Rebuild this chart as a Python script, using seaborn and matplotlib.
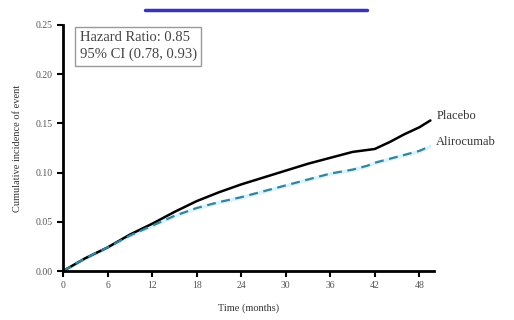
import matplotlib
matplotlib.use('Agg')
import matplotlib.pyplot as plt
from matplotlib.lines import Line2D
import seaborn as sns
import pandas as pd

# values
months = [0, 3, 6, 9, 12, 15, 18, 21, 24, 27, 30, 33, 36, 39, 41, 42, 44, 46, 48, 49.5]
placebo = [0.0, 0.013, 0.024, 0.037, 0.048, 0.060, 0.071, 0.080, 0.088, 0.095, 0.102, 0.109, 0.115, 0.121, 0.123, 0.124, 0.131, 0.139, 0.146, 0.153]
alirocumab = [0.0, 0.013, 0.024, 0.036, 0.046, 0.056, 0.064, 0.070, 0.075, 0.081, 0.087, 0.093, 0.099, 0.103, 0.107, 0.110, 0.114, 0.118, 0.122, 0.127]
xticks = [0, 6, 12, 18, 24, 30, 36, 42, 48]
yticks = [0.00, 0.05, 0.10, 0.15, 0.20, 0.25]

df = pd.DataFrame({
    "month": months * 2,
    "cum": placebo + alirocumab,
    "arm": ["Placebo"] * len(months) + ["Alirocumab"] * len(months),
})

sns.set_theme(style="ticks")
plt.rcParams['font.family'] = ['Liberation Serif', 'DejaVu Serif']

fig = plt.figure(figsize=(5.14, 3.2), dpi=100)
ax = fig.add_axes([0.1226, 0.153, 0.722, 0.769])

# faint confidence band under the treatment curve
ax.fill_between(months, [v - 0.002 for v in alirocumab], [v + 0.002 for v in alirocumab],
                color="#cdf2fb", alpha=0.8, linewidth=0)

sns.lineplot(data=df[df.arm == "Placebo"], x="month", y="cum", ax=ax,
             color="black", linewidth=1.8, legend=False)
sns.lineplot(data=df[df.arm == "Alirocumab"], x="month", y="cum", ax=ax,
             color="#3a8299", linewidth=1.6, linestyle=(0, (4, 2.5)), legend=False)

ax.set_xlim(0, 50)
ax.set_ylim(0, 0.25)
ax.set_xticks(xticks)
ax.set_yticks(yticks)
ax.set_yticklabels([f"{v:.2f}" for v in yticks])
ax.tick_params(labelsize=7, length=4, width=1.5, colors="black", labelcolor="#555555")
for s in ["left", "bottom"]:
    ax.spines[s].set_linewidth(2)
    ax.spines[s].set_color("black")
sns.despine(ax=ax)

ax.set_xlabel("Time (months)", fontsize=7.5, color="#333333", labelpad=9)
ax.set_ylabel("Cumulative incidence of event", fontsize=7.5, color="#333333", labelpad=10)

ax.text(months[-1] + 0.8, placebo[-1] + 0.005, "Placebo", fontsize=9, color="#333333",
        va="center", ha="left", clip_on=False)
ax.text(months[-1] + 0.8, alirocumab[-1] + 0.004, "Alirocumab", fontsize=9, color="#333333",
        va="center", ha="left", clip_on=False)

ax.text(0.045, 0.975, "Hazard Ratio: 0.85\n95% CI (0.78, 0.93)", transform=ax.transAxes,
        fontsize=10.5, color="#444444", va="top", ha="left", linespacing=1.35,
        bbox=dict(boxstyle="square,pad=0.3", fc="white", ec="#999999", lw=1))

# blue rule at the top of the figure
fig.add_artist(Line2D([145 / 514, 367 / 514], [1 - 10 / 320, 1 - 10 / 320],
                      color="#3535b5", linewidth=2.5, transform=fig.transFigure))

fig.savefig("out.png", dpi=100)
